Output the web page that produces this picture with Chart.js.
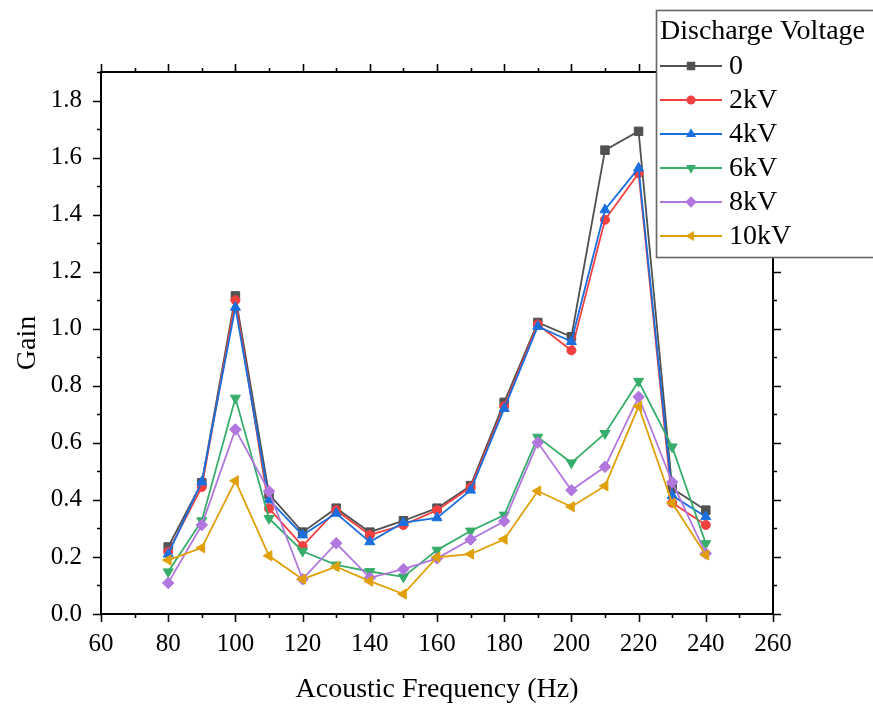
<!DOCTYPE html>
<html>
<head>
<meta charset="utf-8">
<script src="https://cdn.jsdelivr.net/npm/chart.js@4.4.1/dist/chart.umd.min.js"></script>
<style>
  html, body { margin: 0; padding: 0; background: #fff; }
  #wrap { width: 873px; height: 706px; }
</style>
</head>
<body>
<div id="wrap"><canvas id="myChart" width="873" height="706"></canvas></div>
<script>
// data
var freq = [80, 90, 100, 110, 120, 130, 140, 150, 160, 170, 180, 190, 200, 210, 220, 230, 240];
var gain0  = [0.235, 0.46, 1.115, 0.42, 0.287, 0.371, 0.287, 0.327, 0.371, 0.45, 0.742, 1.022, 0.972, 1.626, 1.692, 0.44, 0.364];
var gain2  = [0.218, 0.445, 1.10, 0.37, 0.238, 0.364, 0.277, 0.312, 0.364, 0.444, 0.728, 1.015, 0.924, 1.382, 1.545, 0.39, 0.312];
var gain4  = [0.21, 0.463, 1.075, 0.40, 0.277, 0.353, 0.253, 0.32, 0.337, 0.434, 0.72, 1.008, 0.955, 1.417, 1.563, 0.415, 0.341];
var gain6  = [0.148, 0.327, 0.757, 0.335, 0.22, 0.172, 0.149, 0.13, 0.224, 0.291, 0.347, 0.62, 0.53, 0.633, 0.816, 0.586, 0.247];
var gain8  = [0.109, 0.312, 0.647, 0.43, 0.122, 0.248, 0.127, 0.157, 0.195, 0.261, 0.325, 0.601, 0.434, 0.516, 0.761, 0.462, 0.212];
var gain10 = [0.189, 0.232, 0.467, 0.204, 0.122, 0.166, 0.115, 0.07, 0.199, 0.21, 0.262, 0.431, 0.376, 0.449, 0.728, 0.389, 0.207];

var seriesNames = ["0", "2kV", "4kV", "6kV", "8kV", "10kV"];
var seriesValues = [gain0, gain2, gain4, gain6, gain8, gain10];
var colors = ["#515151", "#F14040", "#1A6FDF", "#37AD6B", "#B177DE", "#E0A00A"];
var shapes = ["rect", "circle", "triangle", "triangle", "rectRot", "triangle"];
var rotations = [0, 0, 0, 180, 0, -90];
var radii = [6, 4.5, 5.8, 5.8, 5.8, 5.8];

var xTicks = [60, 80, 100, 120, 140, 160, 180, 200, 220, 240, 260];
var yTicks = [0, 0.2, 0.4, 0.6, 0.8, 1.0, 1.2, 1.4, 1.6, 1.8];

var serif = "'Liberation Serif', 'Times New Roman', serif";

var datasets = seriesNames.map(function (name, i) {
  return {
    label: name,
    data: freq.map(function (f, j) { return { x: f, y: seriesValues[i][j] }; }),
    borderColor: colors[i],
    backgroundColor: colors[i],
    borderWidth: 1.8,
    pointStyle: shapes[i],
    rotation: rotations[i],
    pointRadius: radii[i],
    pointBorderWidth: 1,
    tension: 0,
    order: 5 - i
  };
});

/* axis box, ticks and the legend box */
var decor = {
  id: "decor",
  afterDraw: function (chart) {
    var ctx = chart.ctx;
    var a = chart.chartArea;
    var xs = chart.scales.x, ys = chart.scales.y;
    ctx.save();
    ctx.strokeStyle = "#000";
    ctx.lineWidth = 2;
    ctx.strokeRect(a.left, a.top, a.right - a.left, a.bottom - a.top);
    ctx.lineWidth = 1.6;
    ctx.beginPath();
    for (var v = 60; v <= 260; v += 10) {
      var px = Math.round(xs.getPixelForValue(v)) + 0.5;
      var len = (v % 20 === 0) ? 8 : 4;
      ctx.moveTo(px, a.bottom); ctx.lineTo(px, a.bottom + len);
      ctx.moveTo(px, a.top); ctx.lineTo(px, a.top - len);
    }
    for (var k = 0; k <= 19; k++) {
      var py = Math.round(ys.getPixelForValue(k / 10)) + 0.5;
      var l2 = (k % 2 === 0) ? 8 : 4;
      ctx.moveTo(a.left, py); ctx.lineTo(a.left - l2, py);
      ctx.moveTo(a.right, py); ctx.lineTo(a.right + l2, py);
    }
    ctx.stroke();

    // legend
    var bx = 656.5, by = 10.5, bw = 230, bh = 247;
    ctx.fillStyle = "#fff";
    ctx.fillRect(bx, by, bw, bh);
    ctx.strokeStyle = "#666";
    ctx.lineWidth = 1.6;
    ctx.strokeRect(bx, by, bw, bh);
    ctx.fillStyle = "#000";
    ctx.font = "28px " + serif;
    ctx.textBaseline = "middle";
    ctx.fillText("Discharge Voltage", 660, 32);
    chart.data.datasets.forEach(function (ds, i) {
      var cy = 66 + i * 34;
      ctx.strokeStyle = ds.borderColor;
      ctx.lineWidth = 1.8;
      ctx.beginPath();
      ctx.moveTo(660, cy); ctx.lineTo(722, cy);
      ctx.stroke();
      ctx.fillStyle = ds.backgroundColor;
      Chart.helpers.drawPoint(ctx, { pointStyle: ds.pointStyle, rotation: ds.rotation, radius: ds.pointRadius, borderWidth: 0 }, 691, cy);
      ctx.fillStyle = "#000";
      ctx.fillText(ds.label, 729, cy + 1);
    });
    ctx.restore();
  }
};

var chart = new Chart(document.getElementById("myChart").getContext("2d"), {
  type: "line",
  data: { datasets: datasets },
  options: {
    responsive: false,
    animation: false,
    layout: { padding: { left: 0, top: 72, right: 100, bottom: 0 } },
    plugins: { legend: { display: false }, tooltip: { enabled: false } },
    scales: {
      x: {
        type: "linear",
        min: 60, max: 260,
        afterBuildTicks: function (s) { s.ticks = xTicks.map(function (v) { return { value: v }; }); },
        afterFit: function (s) { s.height = 92; },
        grid: { display: false },
        border: { display: false },
        ticks: { color: "#000", font: { family: serif, size: 25 }, padding: 7, maxRotation: 0 },
        title: { display: true, text: "Acoustic Frequency (Hz)", color: "#000", font: { family: serif, size: 28 }, padding: { top: 2, bottom: 0 } }
      },
      y: {
        min: 0, max: 1.9,
        afterBuildTicks: function (s) { s.ticks = yTicks.map(function (v) { return { value: v }; }); },
        afterFit: function (s) { s.width = 101; },
        grid: { display: false },
        border: { display: false },
        ticks: {
          color: "#000", font: { family: serif, size: 25 }, padding: 11,
          callback: function (v) { return Number(v).toFixed(1); }
        },
        title: { display: true, text: "Gain", color: "#000", font: { family: serif, size: 28 }, padding: { top: 11, bottom: 0 } }
      }
    }
  },
  plugins: [decor]
});
</script>
</body>
</html>
